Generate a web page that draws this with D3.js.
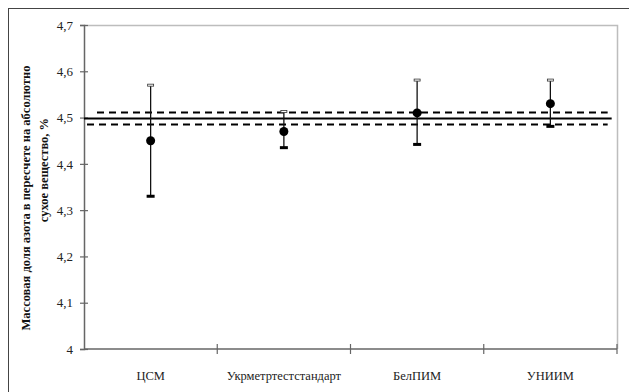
<!DOCTYPE html>
<html>
<head>
<meta charset="utf-8">
<script src="https://cdn.jsdelivr.net/npm/d3@7.8.5/dist/d3.min.js"></script>
<style>
  body { margin: 0; background: #fff; }
  svg { display: block; }
</style>
</head>
<body>
<div id="chart"></div>
<script>
// labs and their results
const labs = ["ЦСМ", "Укрметртестстандарт", "БелПИМ", "УНИИМ"];
const means = [4.45, 4.47, 4.51, 4.53];
const upper = [4.57, 4.513, 4.581, 4.581];
const lower = [4.33, 4.435, 4.442, 4.481];

// reference value and its uncertainty band
const refValue = 4.498;
const refBand = [4.485, 4.511];
const refSpan = [0, 3.96]; // in category units

const yTicks = [4, 4.1, 4.2, 4.3, 4.4, 4.5, 4.6, 4.7];
const yTitle = ["Массовая доля азота в пересчете на абсолютно", "сухое вещество, %"];

const serif = '"Liberation Serif", "DejaVu Serif", serif';
const width = 629, height = 392;
const margin = { top: 25, right: 12, bottom: 43, left: 84 };

const svg = d3.select("#chart").append("svg")
  .attr("width", width)
  .attr("height", height)
  .style("font-family", serif);

// outer frame (right and bottom edges fall outside the picture)
svg.append("rect")
  .attr("x", 8.5).attr("y", 8.5)
  .attr("width", width + 20).attr("height", height + 20)
  .attr("fill", "none")
  .attr("stroke", "#444")
  .attr("stroke-width", 1);

const x = d3.scaleBand()
  .domain(labs)
  .range([margin.left, width - margin.right])
  .padding(0);

// continuous version of the category axis, for the point/line overlay
const xLin = d3.scaleLinear()
  .domain([0, labs.length])
  .range([margin.left, width - margin.right]);

const y = d3.scaleLinear()
  .domain([4, 4.7])
  .range([height - margin.bottom, margin.top]);

// plot area border (top and right)
svg.append("path")
  .attr("d", `M${margin.left},${margin.top + 0.5}H${width - margin.right + 0.5}V${height - margin.bottom}`)
  .attr("fill", "none")
  .attr("stroke", "#bdbdbd")
  .attr("stroke-width", 1.5);

// y axis
const yAxis = svg.append("g")
  .attr("transform", `translate(${margin.left},0)`)
  .call(d3.axisLeft(y)
    .tickValues(yTicks)
    .tickSize(4)
    .tickFormat(d => d === 4 ? "4" : d3.format(".1f")(d).replace(".", ",")))
  .attr("font-family", serif);

yAxis.select(".domain").attr("stroke", "#666").attr("stroke-width", 1.5);
yAxis.selectAll(".tick line")
  .attr("x1", 4).attr("x2", -4)
  .attr("stroke", "#666").attr("stroke-width", 1.2);
yAxis.selectAll(".tick text")
  .attr("x", -11)
  .style("font-family", serif)
  .style("font-size", "13px")
  .style("fill", "#222");

// x axis with boundary ticks between categories
const xAxis = svg.append("g")
  .attr("transform", `translate(0,${height - margin.bottom})`);

xAxis.append("line")
  .attr("x1", margin.left).attr("x2", width - margin.right)
  .attr("stroke", "#666").attr("stroke-width", 1.5);

xAxis.selectAll(".bound")
  .data(d3.range(1, labs.length + 1))
  .enter()
  .append("line")
  .attr("class", "bound")
  .attr("x1", d => xLin(d)).attr("x2", d => xLin(d))
  .attr("y1", -5).attr("y2", 5)
  .attr("stroke", "#666").attr("stroke-width", 1.2);

xAxis.selectAll(".lab")
  .data(labs)
  .enter()
  .append("text")
  .attr("class", "lab")
  .attr("x", d => x(d) + x.bandwidth() / 2)
  .attr("y", 31)
  .attr("text-anchor", "middle")
  .style("font-family", serif)
  .style("font-size", "12.5px")
  .style("fill", "#222")
  .text(d => d);

// y title, two lines, rotated
const titleCenters = [198, 170];
const titleX = [26, 44];
yTitle.forEach((line, i) => {
  svg.append("text")
    .attr("transform", `translate(${titleX[i]},${titleCenters[i]}) rotate(-90)`)
    .attr("text-anchor", "middle")
    .attr("dominant-baseline", "central")
    .style("font-family", serif)
    .style("font-size", "12.5px")
    .style("font-weight", "bold")
    .style("fill", "#111")
    .text(line);
});

// reference lines
svg.append("line")
  .attr("x1", xLin(refSpan[0])).attr("x2", xLin(refSpan[1]))
  .attr("y1", y(refValue)).attr("y2", y(refValue))
  .attr("stroke", "#000").attr("stroke-width", 2);

refBand.forEach((v, i) => {
  svg.append("line")
    .attr("x1", xLin(refSpan[0]) + (i === 0 ? 3 : 13)).attr("x2", xLin(refSpan[1]) - 4)
    .attr("y1", y(v)).attr("y2", y(v))
    .attr("stroke", "#000").attr("stroke-width", 2)
    .attr("stroke-dasharray", "7,5");
});

// error bars and points
const pts = labs.map((lab, i) => ({ lab, i, mean: means[i], hi: upper[i], lo: lower[i] }));
const cx = d => xLin(d.i + 0.5);

const g = svg.append("g");

g.selectAll(".err")
  .data(pts)
  .enter()
  .append("line")
  .attr("class", "err")
  .attr("x1", cx).attr("x2", cx)
  .attr("y1", d => y(d.hi)).attr("y2", d => y(d.lo))
  .attr("stroke", "#111").attr("stroke-width", 1.3);

// upper caps: small hollow bars
g.selectAll(".cap-hi")
  .data(pts)
  .enter()
  .append("rect")
  .attr("class", "cap-hi")
  .attr("x", d => cx(d) - 3)
  .attr("y", d => y(d.hi) - 1)
  .attr("width", 6).attr("height", 2)
  .attr("fill", "#fff")
  .attr("stroke", "#333").attr("stroke-width", 0.8);

// lower caps: solid bars
g.selectAll(".cap-lo")
  .data(pts)
  .enter()
  .append("rect")
  .attr("class", "cap-lo")
  .attr("x", d => cx(d) - 4)
  .attr("y", d => y(d.lo) - 1.5)
  .attr("width", 8).attr("height", 3)
  .attr("fill", "#000");

g.selectAll(".dot")
  .data(pts)
  .enter()
  .append("circle")
  .attr("class", "dot")
  .attr("cx", cx)
  .attr("cy", d => y(d.mean))
  .attr("r", 4.5)
  .attr("fill", "#000");
</script>
</body>
</html>
